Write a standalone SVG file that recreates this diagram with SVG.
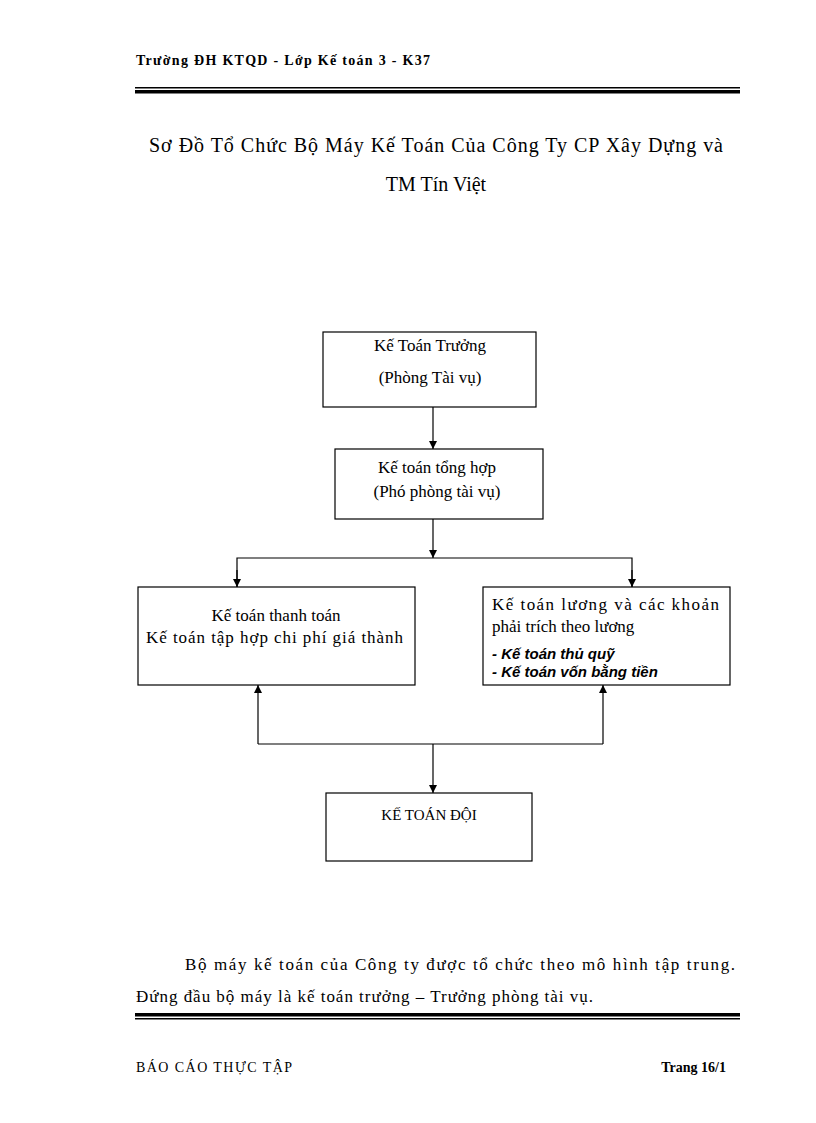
<svg xmlns="http://www.w3.org/2000/svg" width="816" height="1123" viewBox="0 0 816 1123">
<style>
text{font-family:"Liberation Serif",serif;fill:#000}
.b{fill:#fff;stroke:#000;stroke-width:1.2}
.c{fill:none;stroke:#000;stroke-width:1.2}
.n{font-size:17px}
.i{font-family:"Liberation Sans",sans-serif;font-size:15px;font-style:italic;font-weight:bold}
</style>
<defs><marker id="a" viewBox="0 0 10 10" refX="10" refY="5" markerWidth="8" markerHeight="8" orient="auto" markerUnits="userSpaceOnUse"><path d="M0,0L10,5L0,10z" fill="#000"/></marker></defs>
<text x="136" y="65" font-size="14" font-weight="bold" textLength="294" lengthAdjust="spacing">Trường ĐH KTQD - Lớp Kế toán 3 - K37</text>
<rect x="135" y="87" width="605" height="1.5" fill="#000"/>
<rect x="135" y="90" width="605" height="3.5" fill="#000"/>
<text x="149" y="152" font-size="20" textLength="574" lengthAdjust="spacing">Sơ Đồ Tổ Chức Bộ Máy Kế Toán Của Công Ty CP Xây Dựng và</text>
<text x="436" y="191" font-size="20" text-anchor="middle">TM Tín Việt</text>
<g id="n1"><rect class="b" x="323" y="332" width="213" height="75"/><text class="n" x="430" y="351" text-anchor="middle">Kế Toán Trưởng</text><text class="n" x="430" y="383" text-anchor="middle">(Phòng Tài vụ)</text></g>
<g id="n2"><rect class="b" x="335" y="449" width="208" height="70"/><text class="n" x="437" y="473" text-anchor="middle">Kế toán tổng hợp</text><text class="n" x="437" y="497" text-anchor="middle">(Phó phòng tài vụ)</text></g>
<g id="n3"><rect class="b" x="138" y="587" width="277" height="98"/><text class="n" x="276" y="621" text-anchor="middle">Kế toán thanh toán</text><text class="n" x="146" y="643" textLength="257" lengthAdjust="spacing">Kế toán tập hợp chi phí giá thành</text></g>
<g id="n4"><rect class="b" x="483" y="587" width="247" height="98"/><text class="n" x="492" y="610" textLength="227" lengthAdjust="spacing">Kế toán  lương và các khoản</text><text class="n" x="492" y="632">phải trích theo lương</text><text class="i" x="492" y="659">- Kế toán thủ quỹ</text><text class="i" x="492" y="677">- Kế toán vốn bằng tiền</text></g>
<g id="n5"><rect class="b" x="326" y="793" width="206" height="68"/><text x="429" y="820" font-size="15" text-anchor="middle">KẾ TOÁN ĐỘI</text></g>
<g id="connectors">
<path class="c" d="M433,407V449" marker-end="url(#a)"/>
<path class="c" d="M433,519V558" marker-end="url(#a)"/>
<path class="c" d="M237,587V558H632V587" />
<path class="c" d="M237,570V587" marker-end="url(#a)"/>
<path class="c" d="M632,570V587" marker-end="url(#a)"/>
<path class="c" d="M258,744V685" marker-end="url(#a)"/>
<path class="c" d="M603,744V685" marker-end="url(#a)"/>
<path class="c" d="M258,744H603"/>
<path class="c" d="M433,744V793" marker-end="url(#a)"/>
</g>
<text x="185" y="970" font-size="17" textLength="550" lengthAdjust="spacing">Bộ máy kế toán của Công ty được tổ chức theo mô hình tập trung.</text>
<text x="136" y="1002" font-size="17" textLength="457" lengthAdjust="spacing">Đứng đầu bộ máy là kế toán trưởng – Trưởng phòng tài vụ.</text>
<rect x="135" y="1013" width="605" height="3.5" fill="#000"/>
<rect x="135" y="1018" width="605" height="1.5" fill="#000"/>
<text x="136" y="1072" font-size="14" textLength="156" lengthAdjust="spacing">BÁO CÁO THỰC TẬP</text>
<text x="726" y="1072" font-size="14" font-weight="bold" text-anchor="end">Trang 16/1</text>
</svg>
